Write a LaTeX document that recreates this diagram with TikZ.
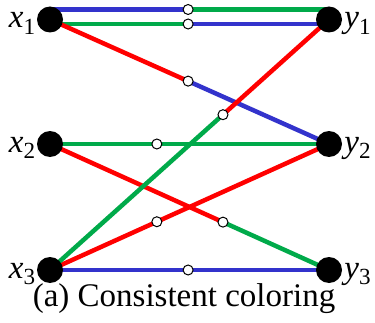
\documentclass[tikz,border=0pt]{standalone}
\usepackage{fontspec}
\setmainfont{Liberation Serif}
\usetikzlibrary{calc,positioning,backgrounds}
\definecolor{edgeblue}{HTML}{3333CC}
\definecolor{edgegreen}{HTML}{00AA4A}
\definecolor{edgered}{HTML}{FF0000}

\begin{document}
\begin{tikzpicture}[x=1pt,y=1pt,
    vertex/.style={circle, fill=black, minimum size=26pt, inner sep=0pt},
    mid/.style={circle, draw=black, fill=white, line width=1pt,
                minimum size=10pt, inner sep=0pt},
    edge/.style={line width=4.5pt, draw=#1},
    vlbl/.style={font=\fontsize{33}{36}\selectfont, inner sep=0pt}
  ]
    \useasboundingbox (0,0) rectangle (375,322);
    % vertices
    \node[vertex] (x1) at (50,302.5) {};
    \node[vertex] (x2) at (50,178)   {};
    \node[vertex] (x3) at (50,52)    {};
    \node[vertex] (y1) at (329,302.5) {};
    \node[vertex] (y2) at (329,178)   {};
    \node[vertex] (y3) at (329,52)    {};

    \node[vlbl, anchor=base east] at ($(x1.west)+(-1,-8)$) {\textit{x}\textsubscript{1}};
    \node[vlbl, anchor=base east] at ($(x2.west)+(-1,-8)$) {\textit{x}\textsubscript{2}};
    \node[vlbl, anchor=base east] at ($(x3.west)+(-1,-8)$) {\textit{x}\textsubscript{3}};
    \node[vlbl, anchor=base west] at ($(y1.east)+(2,-8)$)  {\textit{y}\textsubscript{1}};
    \node[vlbl, anchor=base west] at ($(y2.east)+(2,-8)$)  {\textit{y}\textsubscript{2}};
    \node[vlbl, anchor=base west] at ($(y3.east)+(2,-8)$)  {\textit{y}\textsubscript{3}};

    % edge midpoints
    \node[mid] (m11a) at ($(x1)!0.495!(y1)+(0,10)$) {};
    \node[mid] (m11b) at ($(x1)!0.495!(y1)+(0,-4.5)$) {};
    \node[mid] (m12)  at ($(x1)!0.495!(y2)$) {};
    \node[mid] (m22)  at ($(x2)!0.383!(y2)$) {};
    \node[mid] (m23)  at ($(x2)!0.62!(y3)$)  {};
    \node[mid] (m32)  at ($(x3)!0.383!(y2)$) {};
    \node[mid] (m31)  at ($(x3)!0.62!(y1)$)  {};
    \node[mid] (m33)  at ($(x3)!0.495!(y3)$) {};

    \begin{scope}[on background layer]
      \draw[edge=edgeblue]  ([yshift=10pt]x1.center) -- (m11a.center);
      \draw[edge=edgegreen] (m11a.center) -- ([yshift=10pt]y1.center);
      \draw[edge=edgegreen] ([yshift=-4.5pt]x1.center) -- (m11b.center);
      \draw[edge=edgeblue]  (m11b.center) -- ([yshift=-4.5pt]y1.center);
      \draw[edge=edgered]   (x1.center) -- (m12.center);
      \draw[edge=edgeblue]  (m12.center) -- (y2.center);
      \draw[edge=edgegreen] (x2.center) -- (m22.center) -- (y2.center);
      \draw[edge=edgered]   (x2.center) -- (m23.center);
      \draw[edge=edgegreen] (m23.center) -- (y3.center);
      \draw[edge=edgered]   (x3.center) -- (m32.center) -- (y2.center);
      \draw[edge=edgeblue]  (x3.center) -- (m33.center) -- (y3.center);
      \draw[edge=edgegreen] (x3.center) -- (m31.center);
      \draw[edge=edgered]   (m31.center) -- (y1.center);
    \end{scope}

    \node[font=\fontsize{33}{36}\selectfont, inner sep=0pt, anchor=base]
      (cap) at (184,16) {(a) Consistent coloring};
  \end{tikzpicture}
\end{document}
